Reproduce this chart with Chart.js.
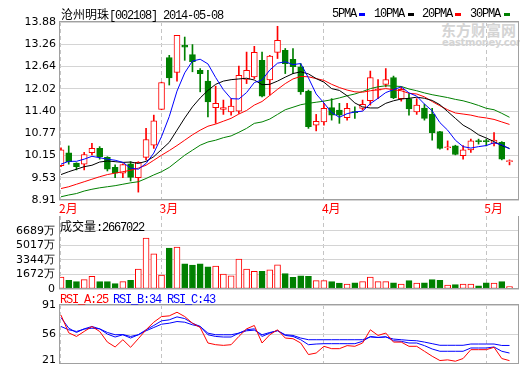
<!DOCTYPE html>
<html><head><meta charset="utf-8">
<script src="https://cdn.jsdelivr.net/npm/chart.js@4.4.1/dist/chart.umd.min.js"></script>
<style>
html,body{margin:0;padding:0;background:#fff;}
#wrap{position:relative;width:520px;height:365px;overflow:hidden;background:#fff;}
canvas{position:absolute;left:0;z-index:1;}
.t{position:absolute;white-space:nowrap;font-size:12px;line-height:12px;z-index:2;color:#000;}
.a{font-family:"Liberation Mono",monospace;letter-spacing:-1.2px;}
.c{font-family:"Noto Sans CJK SC",sans-serif;}
.d{position:absolute;height:3px;width:6px;top:13px;z-index:2;}
.wm{position:absolute;z-index:0;color:#d4d4d4;white-space:nowrap;}
</style></head>
<body><div id="wrap">
<div class="wm" style="left:441px;top:22px;font:bold 15px 'Noto Sans CJK SC';line-height:16px;">东方财富网</div>
<div class="wm" style="left:442px;top:38px;font:bold 10px 'DejaVu Sans';line-height:10px;letter-spacing:-0.3px;">eastmoney.com</div>

<div class="t" style="left:61px;top:8px;"><span class="c">沧州明珠</span><span class="a">[002108] 2014-05-08</span></div>
<div class="t a" style="left:332px;top:8px;">5PMA</div><div class="d" style="left:359px;background:#0000ff"></div>
<div class="t a" style="left:374px;top:8px;">10PMA</div><div class="d" style="left:408px;background:#000"></div>
<div class="t a" style="left:422px;top:8px;">20PMA</div><div class="d" style="left:455px;background:#ff0000"></div>
<div class="t a" style="left:470px;top:8px;">30PMA</div><div class="d" style="left:504px;background:#008000"></div>

<div class="t" style="left:60px;top:220px;"><span class="c">成交量</span><span class="a">:2667022</span></div>
<div class="t a" style="left:60px;top:294px;color:#ff0000">RSI_A:25</div>
<div class="t a" style="left:113px;top:294px;color:#0000ff">RSI_B:34</div>
<div class="t a" style="left:167px;top:294px;color:#0000ff">RSI_C:43</div>

<canvas id="main" width="520" height="216" style="top:0"></canvas>
<canvas id="vol" width="520" height="76" style="top:216px"></canvas>
<canvas id="rsi" width="520" height="73" style="top:292px"></canvas>
</div>
<script>
const monthLabels = ['2月','3月','4月','5月'];
const monthStarts = [0, 13, 34, 55];
const priceTicks = ['8.91','9.53','10.15','10.77','11.40','12.02','12.64','13.26','13.88'];
const volTicks = [0, 1672, 3344, 5017, 6689];
const rsiTicks = ['21','56','91'];

const opens = [9.87,10.23,9.94,9.91,10.23,10.35,10.10,9.82,9.66,9.92,
 9.53,10.10,10.44,11.44,12.89,12.47,13.23,12.97,12.53,12.23,
 11.49,11.44,11.37,11.39,12.28,12.35,12.81,12.26,13.03,13.09,
 12.84,12.63,11.95,11.00,11.09,11.49,11.42,11.21,11.37,11.47,
 11.68,11.98,12.14,12.33,11.74,11.74,11.37,11.48,11.30,10.82,
 10.37,10.42,10.15,10.31,10.56,10.55,10.49,10.52,9.98];
const highs = [10.37,10.42,9.95,10.24,10.49,10.40,10.12,9.89,9.92,9.98,
 9.98,10.91,11.28,12.20,12.95,13.51,13.46,13.25,12.58,12.53,
 12.09,11.70,11.74,12.65,13.04,13.20,13.04,12.95,13.76,13.14,
 13.14,12.72,11.98,11.30,11.61,11.74,11.61,11.61,11.51,11.70,
 12.51,12.27,12.58,12.37,12.07,11.88,11.74,11.58,11.47,10.83,
 10.56,10.44,10.43,10.61,10.61,10.61,10.79,10.54,10.03];
const lows = [9.84,9.91,9.75,9.75,10.17,10.05,9.72,9.53,9.53,9.44,
 9.13,10.03,10.35,11.43,12.12,12.23,12.81,12.49,11.93,11.23,
 11.05,11.30,11.28,11.33,12.16,12.30,11.79,11.84,12.86,12.44,
 12.44,11.86,10.91,10.84,11.00,11.14,11.05,11.14,11.19,11.42,
 11.56,11.74,12.07,11.74,11.67,11.28,11.30,11.14,10.58,10.33,
 10.31,10.17,10.05,10.24,10.47,10.42,10.42,10.03,9.89];
const closes = [10.31,9.98,9.84,10.18,10.35,10.12,9.77,9.66,9.90,9.54,
 9.96,10.60,11.12,12.19,12.32,13.51,13.18,12.77,12.44,11.65,
 11.61,11.49,11.53,12.39,12.53,13.03,11.81,12.93,13.37,12.72,
 12.63,11.93,10.96,11.11,11.47,11.28,11.28,11.47,11.35,11.58,
 12.33,12.00,12.27,11.76,12.00,11.45,11.56,11.19,10.79,10.35,
 10.39,10.18,10.31,10.56,10.54,10.54,10.58,10.05,10.00];
const ma5 = [9.91,9.99,9.99,10.05,10.13,10.09,10.05,10.02,9.96,9.80,
 9.77,9.93,10.22,10.68,11.24,11.95,12.46,12.79,12.84,12.71,
 12.33,11.99,11.74,11.73,11.91,12.19,12.26,12.54,12.73,12.77,
 12.69,12.72,12.32,11.87,11.62,11.35,11.22,11.32,11.37,11.39,
 11.60,11.75,11.91,11.99,12.07,11.90,11.81,11.59,11.40,11.07,
 10.86,10.58,10.40,10.36,10.40,10.43,10.51,10.45,10.34];
const ma10 = [9.62,9.70,9.77,9.84,9.88,9.97,10.00,9.98,9.96,9.97,
 9.93,9.99,10.12,10.32,10.52,10.86,11.20,11.51,11.76,11.97,
 12.14,12.23,12.27,12.29,12.31,12.26,12.13,12.14,12.23,12.34,
 12.44,12.49,12.43,12.30,12.20,12.02,11.97,11.82,11.62,11.51,
 11.48,11.48,11.61,11.68,11.73,11.75,11.78,11.75,11.69,11.57,
 11.38,11.19,11.00,10.88,10.73,10.64,10.54,10.43,10.35];
const ma20 = [9.23,9.28,9.35,9.42,9.49,9.56,9.62,9.66,9.70,9.74,
 9.80,9.88,10.02,10.16,10.29,10.43,10.58,10.73,10.86,10.97,
 11.03,11.11,11.19,11.31,11.41,11.56,11.66,11.83,12.00,12.16,
 12.29,12.36,12.35,12.30,12.25,12.14,12.05,11.98,11.93,11.92,
 11.96,11.99,12.02,11.99,11.96,11.89,11.87,11.79,11.66,11.54,
 11.43,11.34,11.31,11.28,11.23,11.20,11.16,11.09,11.02];
const ma30 = [9.00,9.05,9.09,9.16,9.21,9.25,9.28,9.31,9.35,9.39,
 9.42,9.51,9.61,9.70,9.82,9.99,10.16,10.30,10.44,10.53,
 10.58,10.65,10.70,10.80,10.91,11.05,11.09,11.17,11.30,11.43,
 11.50,11.57,11.61,11.64,11.67,11.71,11.76,11.82,11.87,11.94,
 12.02,12.07,12.10,12.09,12.08,12.01,11.96,11.90,11.85,11.81,
 11.77,11.72,11.68,11.62,11.55,11.47,11.43,11.33,11.22];
const volumes = [1373,990,837,1067,1449,837,837,608,837,990,
 2290,5845,4048,1602,4698,4813,2901,2749,2901,2557,
 2634,1717,1525,3437,2290,2022,2022,2213,2787,1755,
 1334,1525,1449,952,952,837,685,570,722,837,
 1373,837,837,722,570,952,685,722,1067,990,
 455,493,570,570,378,722,685,837,267];
const rsiA = [79,58,53.7,59.6,65.5,59.6,47,41.2,49.8,40.8,
 51,61.6,70.6,77.3,78.1,82.4,77.3,69.4,64.3,45.9,
 43.9,43.1,43.9,53.7,62.7,66.7,45.9,55.7,61.6,51.8,
 51,45.9,32.2,34,42,39.2,39.2,42.8,42,45.9,
 61.6,54.9,57.7,47,47,42,42,36.1,30.2,25.1,
 25.9,24.3,27.5,38,38,38,40.8,27.5,25];
const rsiB = [76.1,63.5,58.4,62.7,65.5,62.7,56.5,53,55.7,51.8,
 55.7,61.6,66.7,72.2,73.4,76.9,74.9,69.4,65.5,55.7,
 53.7,53,53,57.6,61.6,62.7,53.7,57.6,60.8,54.9,
 53.7,49.8,43.9,44.7,45.1,45.1,45.1,45.1,45.1,47.9,
 53.7,52.5,53.4,48.6,47.9,45.9,45.9,42.8,38.8,36.1,
 36.1,36.1,36.1,40,40,40,41.2,36.1,34];
const rsiC = [65.5,61.6,59.6,62.4,63.5,62.7,58.4,55.7,55.9,53.7,
 55.7,60.4,64.3,68.2,69.4,71.4,70.6,67.5,65.5,57.6,
 55.7,55.7,55.7,57.6,60.4,61.2,55.7,58.4,60.4,55.7,
 54.9,51.8,49.8,49.8,49.8,49.8,49.8,49.8,49.8,49.8,
 53,52.5,53,50.6,49.8,49,48.6,47,45.1,43.2,
 43.2,43.2,43.2,44.7,44.7,44.7,44.7,43,43];

const RED = '#ff0000', GREEN = '#008000', BLUE = '#0000ff';
const up = closes.map((c, i) => c >= opens[i]);
const lineCol = up.map(u => u ? RED : GREEN);
const fillCol = up.map(u => u ? '#ffffff' : GREEN);
const pts = arr => arr.map((v, i) => ({x: i, y: v}));
const X_MIN = -0.2586, X_MAX = 59.228;
const FONT_NUM = {family: 'DejaVu Sans', size: 11};

const framePlugin = {
  id: 'frame',
  afterDraw(chart) {
    const a = chart.chartArea, ctx = chart.ctx;
    ctx.save();
    ctx.strokeStyle = '#a0a0a0'; ctx.lineWidth = 1;
    const l = Math.round(a.left) + 0.5, t = Math.round(a.top) - 0.5;
    const r = Math.round(a.right) - 0.5, b = Math.round(a.bottom) - 0.5;
    ctx.strokeRect(l, t, r - l, b - t);
    ctx.restore();
  }
};

function xScale(showLabels, h) {
  return {
    type: 'linear', min: X_MIN, max: X_MAX, offset: false,
    afterBuildTicks: s => { s.ticks = monthStarts.map(v => ({value: v})); },
    afterFit: s => { s.height = h; s.paddingLeft = 0; s.paddingRight = 0; },
    ticks: {display: showLabels, callback: (v, i) => monthLabels[i], color: RED,
      font: {family: 'Noto Sans CJK SC', size: 12}, padding: 1, align: 'start',
      labelOffset: -2, maxRotation: 0, autoSkip: false},
    grid: {color: '#c4c4c4', drawTicks: false, offset: false},
    border: {display: false, dash: [4, 3]}
  };
}
function yAfterFit(s) { s.width = 59; s.paddingTop = 0; s.paddingBottom = 0; }
const base = {responsive: false, animation: false, devicePixelRatio: 1,
  plugins: {legend: {display: false}, tooltip: {enabled: false}}};

const wickData = lows.map((l, i) => ({x: i, y: [l, highs[i]]}));
const bodyData = opens.map((o, i) => ({x: i, y: [Math.min(o, closes[i]), Math.max(o, closes[i])]}));
const lineDs = (arr, col) => ({type: 'line', data: pts(arr), borderColor: col, borderWidth: 1,
  pointRadius: 0, tension: 0, fill: false, order: 1});

new Chart(document.getElementById('main'), {
  type: 'bar',
  data: {datasets: [
    lineDs(ma5, BLUE), lineDs(ma10, '#000000'), lineDs(ma20, RED), lineDs(ma30, GREEN),
    {type: 'bar', data: wickData, backgroundColor: lineCol, borderWidth: 0, barThickness: 1, grouped: false, order: 3},
    {type: 'bar', data: bodyData, backgroundColor: fillCol, borderColor: lineCol, borderWidth: 1,
      borderSkipped: false, barThickness: 6, minBarLength: 1, grouped: false, order: 2}
  ]},
  options: Object.assign({}, base, {
    layout: {padding: {top: 22, right: 1, bottom: 0, left: 0}},
    scales: {
      x: xScale(true, 16),
      y: {min: 8.91, max: 13.88,
        afterBuildTicks: s => { s.ticks = priceTicks.map((_, k) => ({value: 8.91 + k * (13.88 - 8.91) / 8})); },
        afterFit: yAfterFit,
        ticks: {callback: (v, i) => priceTicks[i], color: '#000', font: FONT_NUM, padding: 3, autoSkip: false},
        grid: {color: '#d4d4d4', drawTicks: false}, border: {display: false}}
    }
  }),
  plugins: [framePlugin]
});

new Chart(document.getElementById('vol'), {
  type: 'bar',
  data: {datasets: [
    {type: 'bar', data: pts(volumes), backgroundColor: fillCol, borderColor: lineCol, borderWidth: 1,
      borderSkipped: false, barThickness: 6, minBarLength: 2, grouped: false}
  ]},
  options: Object.assign({}, base, {
    layout: {padding: {top: 0, right: 1, bottom: 3, left: 0}},
    scales: {
      x: xScale(false, 0),
      y: {min: 0, max: 6689 * 73 / 58.3,
        afterBuildTicks: s => { s.ticks = volTicks.map(v => ({value: v})); },
        afterFit: yAfterFit,
        ticks: {callback: v => v === 0 ? '0' : v + '万', color: '#000', font: FONT_NUM, padding: 4, autoSkip: false},
        grid: {color: '#d4d4d4', drawTicks: false}, border: {display: false}}
    }
  }),
  plugins: [framePlugin]
});

new Chart(document.getElementById('rsi'), {
  type: 'line',
  data: {datasets: [
    lineDs(rsiA, RED), lineDs(rsiB, BLUE), lineDs(rsiC, BLUE)
  ]},
  options: Object.assign({}, base, {
    layout: {padding: {top: 13, right: 1, bottom: 1, left: 0}},
    scales: {
      x: xScale(false, 0),
      y: {min: 21, max: 91,
        afterBuildTicks: s => { s.ticks = [{value: 25.7}, {value: 56}, {value: 91}]; },
        afterFit: yAfterFit,
        ticks: {callback: (v, i) => rsiTicks[i], color: '#000', font: FONT_NUM, padding: 3, autoSkip: false},
        grid: {color: c => c.index === 0 ? 'rgba(0,0,0,0)' : '#d4d4d4', drawTicks: false},
        border: {display: false}}
    }
  }),
  plugins: [framePlugin]
});
</script>
</body></html>
